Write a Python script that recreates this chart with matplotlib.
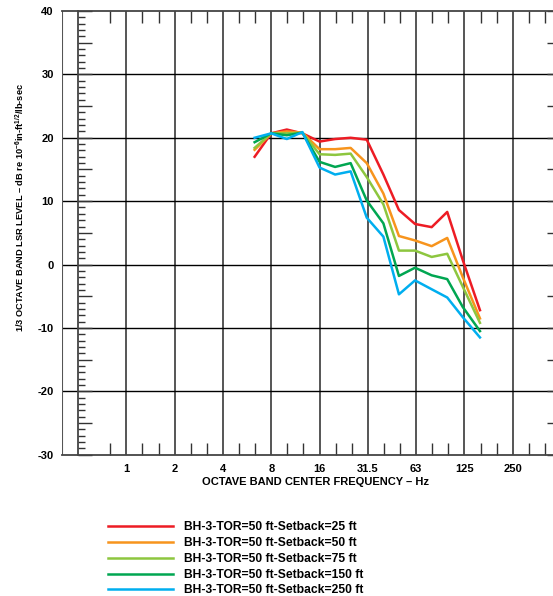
import numpy as np
import matplotlib
matplotlib.use("Agg")
import matplotlib.pyplot as plt
from matplotlib.ticker import FixedLocator, MultipleLocator, FuncFormatter, NullFormatter

plt.rcParams['font.family'] = ['Liberation Sans', 'DejaVu Sans']
plt.rcParams['font.weight'] = 'bold'
plt.rcParams['mathtext.fontset'] = 'custom'
plt.rcParams['mathtext.rm'] = 'Liberation Sans:bold'
plt.rcParams['mathtext.default'] = 'rm'

# 1/3 octave band centre frequencies (Hz)
bands = [6.3, 8, 10, 12.5, 16, 20, 25, 31.5, 40, 50, 63, 80, 100, 125, 160]

# LSR level, dB re 1e-6 in-ft^1/2/lb-sec
setback_25 = [17.0, 20.7, 21.3, 20.7, 19.4, 19.8, 20.0, 19.7, 14.2, 8.6, 6.4, 5.9, 8.3, 0.7, -7.2]
setback_50 = [18.1, 20.7, 21.0, 20.8, 18.2, 18.2, 18.4, 16.0, 11.2, 4.5, 3.8, 2.9, 4.2, -2.0, -8.5]
setback_75 = [18.4, 20.7, 20.7, 20.8, 17.4, 17.3, 17.5, 13.8, 9.5, 2.2, 2.2, 1.2, 1.7, -3.5, -9.2]
setback_150 = [19.3, 20.7, 20.4, 20.8, 16.2, 15.4, 16.0, 10.1, 6.5, -1.8, -0.5, -1.7, -2.3, -6.7, -10.5]
setback_250 = [20.0, 20.7, 19.8, 20.9, 15.3, 14.2, 14.7, 7.4, 4.4, -4.7, -2.5, -3.9, -5.2, -8.3, -11.5]

series = [
    (setback_25, '#ED1C24', 'BH-3-TOR=50 ft-Setback=25 ft'),
    (setback_50, '#F7941D', 'BH-3-TOR=50 ft-Setback=50 ft'),
    (setback_75, '#8DC63F', 'BH-3-TOR=50 ft-Setback=75 ft'),
    (setback_150, '#00A651', 'BH-3-TOR=50 ft-Setback=150 ft'),
    (setback_250, '#00AEEF', 'BH-3-TOR=50 ft-Setback=250 ft'),
]

octave_ticks = [1, 2, 4, 8, 16, 32, 64, 128, 256]
octave_labels = ['1', '2', '4', '8', '16', '31.5', '63', '125', '250']
third_ticks = [2 ** (k / 3) for k in range(-1, 27) if k % 3 != 0]

fig = plt.figure(figsize=(5.53, 5.96), dpi=100)
ax = fig.add_axes([62 / 553, 141.3 / 596, 499 / 553, 443.7 / 596])

ax.set_xscale('log', base=2)
ax.set_xlim(2 ** (-4 / 3), 512)
ax.set_ylim(-30, 40)

for vals, color, label in series:
    ax.plot(bands, vals, color=color, lw=1.8, label=label, zorder=3)

# grid: octave verticals, 10 dB horizontals
for f in octave_ticks:
    ax.axvline(f, color='#555555', lw=1.4, zorder=1)
for y in range(-20, 40, 10):
    ax.axhline(y, color='black', lw=1.0, zorder=1)
ax.axvline(2 ** (-4 / 3), color='#555555', lw=1.5, zorder=1)

ax.xaxis.set_major_locator(FixedLocator(octave_ticks))
ax.xaxis.set_major_formatter(FuncFormatter(lambda v, p: octave_labels[octave_ticks.index(int(round(v)))] if int(round(v)) in octave_ticks else ''))
ax.xaxis.set_minor_locator(FixedLocator(third_ticks))
ax.xaxis.set_minor_formatter(NullFormatter())
ax.tick_params(axis='x', which='major', length=0, pad=6.5, labelsize=8)
ax.tick_params(axis='x', which='minor', direction='in', length=8.6, width=1.0,
               top=True, bottom=True, color='#333333')

ax.yaxis.set_major_locator(MultipleLocator(5))
ax.yaxis.set_major_formatter(FuncFormatter(lambda v, p: f'{int(v)}' if int(v) % 10 == 0 else ''))
ax.yaxis.set_minor_locator(MultipleLocator(1))
ax.tick_params(axis='y', which='major', direction='in', length=10, width=1.0,
               left=True, right=True, pad=17.5, labelsize=8, color='#333333')
ax.tick_params(axis='y', which='minor', direction='in', length=5, width=1.0,
               left=True, right=True, color='#333333')

ax.spines['left'].set_position(('data', 0.5))
for s in ax.spines.values():
    s.set_color('#444444')
    s.set_linewidth(1.3)

ax.set_xlabel('OCTAVE BAND CENTER FREQUENCY \u2013 Hz', fontsize=8, fontweight='bold')
ax.xaxis.set_label_coords(254 / 499, -22 / 443.7)

fig.text(20 / 553, 1 - 207 / 596,
         '1/3 OCTAVE BAND LSR LEVEL \u2013 dB re 10$^{-6}$in-ft$^{1/2}$/lb-sec',
         rotation=90, ha='center', va='center', fontsize=6.7, fontweight='bold')

fig.legend(loc='upper left', bbox_to_anchor=(108 / 553, 1 - 521.5 / 596), frameon=False,
           handlelength=5.4, handletextpad=0.9, labelspacing=0.31,
           borderpad=0, borderaxespad=0, prop={'weight': 'bold', 'size': 8.7})

fig.savefig('out.png', dpi=100)
